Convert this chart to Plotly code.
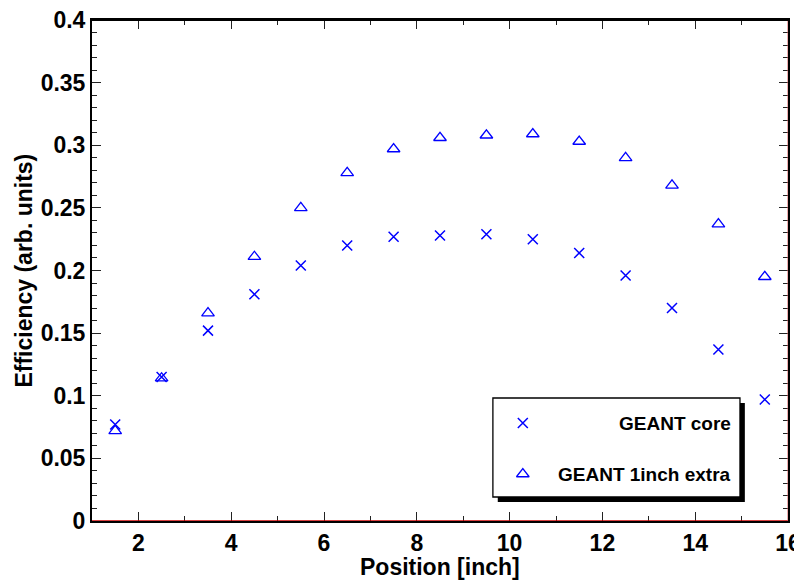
import plotly.graph_objects as go

positions = [1.5, 2.5, 3.5, 4.5, 5.5, 6.5, 7.5, 8.5, 9.5, 10.5, 11.5, 12.5, 13.5, 14.5, 15.5]
geant_core = [0.077, 0.115, 0.152, 0.181, 0.204, 0.220, 0.227, 0.228, 0.229, 0.225, 0.214, 0.196, 0.170, 0.137, 0.097]
geant_extra = [0.072, 0.114, 0.166, 0.211, 0.250, 0.278, 0.297, 0.306, 0.308, 0.309, 0.303, 0.290, 0.268, 0.237, 0.195]
series_names = ["GEANT core", "GEANT 1inch extra"]
x_title = "Position [inch]"
y_title = "Efficiency (arb. units)"

BLUE = "#0000ff"
FONT = "Liberation Sans, Arial, sans-serif"

fig = go.Figure()
fig.add_trace(go.Scatter(x=positions, y=geant_core, mode="markers", name=series_names[0],
                         marker=dict(symbol="x-thin-open", size=10, color=BLUE,
                                     line=dict(color=BLUE, width=1.5)),
                         showlegend=False))
fig.add_trace(go.Scatter(x=positions, y=geant_extra, mode="markers", name=series_names[1],
                         marker=dict(symbol="triangle-up-open", size=11, color=BLUE,
                                     line=dict(color=BLUE, width=1.3)),
                         showlegend=False))

# legend markers on an invisible overlay axis (0..1 = plot area fraction)
leg_x = 0.619
leg_y = [0.1956, 0.0938]
fig.add_trace(go.Scatter(x=[leg_x], y=[leg_y[0]], xaxis="x2", yaxis="y2", mode="markers",
                         marker=dict(symbol="x-thin-open", size=10, color=BLUE,
                                     line=dict(color=BLUE, width=1.5)),
                         showlegend=False, hoverinfo="skip"))
fig.add_trace(go.Scatter(x=[leg_x], y=[leg_y[1]], xaxis="x2", yaxis="y2", mode="markers",
                         marker=dict(symbol="triangle-up-open", size=11, color=BLUE,
                                     line=dict(color=BLUE, width=1.3)),
                         showlegend=False, hoverinfo="skip"))

tickfont = dict(family=FONT, size=23, color="black", weight="bold")
titlefont = dict(family=FONT, size=23, color="black", weight="bold")

# page has an 8px body margin: size/margins compensate so the plot area sits at 92..788 x 20..521
fig.update_layout(
    width=794, height=574,
    margin=dict(l=84, r=14, t=12, b=61),
    paper_bgcolor="white", plot_bgcolor="white",
    showlegend=False,
    xaxis=dict(range=[1, 16], tick0=0, dtick=2, ticks="inside", ticklen=9, tickwidth=1.2,
               tickcolor="#222", showline=True, linecolor="black", linewidth=2, mirror="ticks",
               showgrid=False, zeroline=False, tickfont=tickfont, automargin=False,
               ticklabeloverflow="allow",
               minor=dict(dtick=1, ticks="inside", ticklen=5, tickwidth=1.2, tickcolor="#222")),
    yaxis=dict(range=[0, 0.4], tick0=0, dtick=0.05, ticks="inside", ticklen=9, tickwidth=1.2,
               tickcolor="#222", showline=True, linecolor="black", linewidth=2, mirror="ticks",
               showgrid=False, zeroline=False, tickfont=tickfont, automargin=False,
               ticklabeloverflow="allow",
               minor=dict(dtick=0.01, ticks="inside", ticklen=5, tickwidth=1.2, tickcolor="#222")),
    xaxis2=dict(range=[0, 1], overlaying="x", visible=False, fixedrange=True),
    yaxis2=dict(range=[0, 1], overlaying="y", visible=False, fixedrange=True),
)

shapes = [
    # legend shadow and box (under the markers)
    dict(type="rect", xref="paper", yref="paper", x0=0.583, x1=0.938, y0=0.0379, y1=0.2355,
         fillcolor="black", line=dict(color="black", width=0), layer="below"),
    dict(type="rect", xref="paper", yref="paper", x0=0.576, x1=0.931, y0=0.0479, y1=0.2455,
         fillcolor="white", line=dict(color="black", width=1.3), layer="below"),
    # red lines at y=0 and x=16
    dict(type="line", xref="x", yref="y", x0=1, x1=16, y0=0, y1=0,
         line=dict(color="#cc0000", width=1.3), layer="above"),
    dict(type="line", xref="x", yref="y", x0=16, x1=16, y0=0, y1=0.4,
         line=dict(color="#e06060", width=1), layer="above"),
    # top frame line (explicit, so it is always drawn)
    dict(type="line", xref="paper", yref="paper", x0=0, x1=1, y0=1, y1=1,
         line=dict(color="black", width=2), layer="above"),
]
fig.update_layout(shapes=shapes)

legfont = dict(family=FONT, size=19, color="black", weight="bold")
for name, yy in zip(series_names, leg_y):
    fig.add_annotation(x=0.921, y=yy, xref="paper", yref="paper", text=name, showarrow=False,
                       xanchor="right", yanchor="middle", font=legfont)

fig.add_annotation(x=0.5, y=-0.092, xref="paper", yref="paper", text=x_title, showarrow=False,
                   xanchor="center", yanchor="middle", font=titlefont)
fig.add_annotation(x=-0.099, y=0.5, xref="paper", yref="paper", text=y_title, showarrow=False,
                   textangle=-90, xanchor="center", yanchor="middle", font=titlefont)

fig.write_html("out.html")
